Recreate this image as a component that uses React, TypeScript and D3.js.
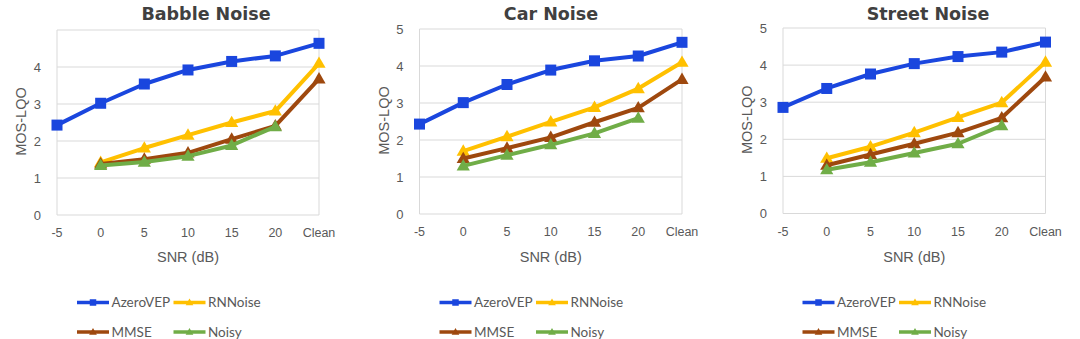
import React from "react";
import * as d3 from "d3";

const categories = ["-5", "0", "5", "10", "15", "20", "Clean"];
const yTicks = [0, 1, 2, 3, 4, 5];
const seriesNames = ["AzeroVEP", "RNNoise", "MMSE", "Noisy"];
const seriesColors = ["#1a46de", "#ffc000", "#9e480e", "#70ad47"];
const seriesMarkers = ["square", "triangle", "triangle", "triangle"];

type V = number | null;
const babbleAzero: V[] = [2.43, 3.02, 3.54, 3.92, 4.15, 4.3, 4.64];
const babbleRNN: V[] = [null, 1.42, 1.81, 2.16, 2.5, 2.81, 4.1];
const babbleMMSE: V[] = [null, 1.38, 1.51, 1.68, 2.05, 2.41, 3.68];
const babbleNoisy: V[] = [null, 1.34, 1.43, 1.59, 1.88, 2.39, null];

const carAzero: V[] = [2.43, 3.01, 3.5, 3.89, 4.14, 4.27, 4.64];
const carRNN: V[] = [null, 1.7, 2.09, 2.49, 2.88, 3.39, 4.1];
const carMMSE: V[] = [null, 1.5, 1.78, 2.07, 2.48, 2.87, 3.64];
const carNoisy: V[] = [null, 1.3, 1.59, 1.87, 2.18, 2.59, null];

const streetAzero: V[] = [2.86, 3.37, 3.76, 4.04, 4.23, 4.35, 4.62];
const streetRNN: V[] = [null, 1.49, 1.8, 2.18, 2.59, 2.99, 4.08];
const streetMMSE: V[] = [null, 1.3, 1.59, 1.88, 2.18, 2.58, 3.68];
const streetNoisy: V[] = [null, 1.18, 1.38, 1.63, 1.88, 2.37, null];

const panels = [
  { title: "Babble Noise", series: [babbleAzero, babbleRNN, babbleMMSE, babbleNoisy], left: 57, right: 319, top: 30, bottom: 215, titleX: 206, showTop: false, ylabX: 20.5, legendX: 77 },
  { title: "Car Noise", series: [carAzero, carRNN, carMMSE, carNoisy], left: 419.5, right: 682, top: 29, bottom: 214, titleX: 551, showTop: true, ylabX: 383.5, legendX: 439.5 },
  { title: "Street Noise", series: [streetAzero, streetRNN, streetMMSE, streetNoisy], left: 783, right: 1045.5, top: 28, bottom: 213.5, titleX: 928, showTop: true, ylabX: 746.5, legendX: 802.5 },
];

const axisFont = "'Liberation Sans', Arial, sans-serif";
const legendFont = "Lato, 'Liberation Sans', sans-serif";
const textColor = "#595959";
const gridColor = "#d9d9d9";

function Marker({ kind, x, y, color, size }: { kind: string; x: number; y: number; color: string; size: number }) {
  if (kind === "square") {
    return <rect x={x - size / 2} y={y - size / 2} width={size} height={size} fill={color} />;
  }
  const h = size * 0.95;
  const w = size * 1.1;
  const pts = `${x},${y - h * 0.6} ${x + w / 2},${y + h * 0.4} ${x - w / 2},${y + h * 0.4}`;
  return <polygon points={pts} fill={color} />;
}

function Panel({ p }: { p: (typeof panels)[number] }) {
  const x = d3.scalePoint<string>().domain(categories).range([p.left, p.right]).padding(0);
  const y = d3.scaleLinear().domain([0, 5]).range([p.bottom, p.top]);
  const line = d3
    .line<V>()
    .defined((d) => d !== null)
    .x((_, i) => x(categories[i]) as number)
    .y((d) => y(d as number));
  const midY = (p.top + p.bottom) / 2 - 1;
  const plotMid = (p.left + p.right) / 2;
  return (
    <g>
      <text x={p.titleX} y={20} textAnchor="middle" fontFamily="'DejaVu Sans', sans-serif" fontWeight="bold" fontSize={17.5} fill="#404040">
        {p.title}
      </text>
      {yTicks.map((t) => (
        <line key={"g" + t} x1={p.left} x2={p.right} y1={y(t)} y2={y(t)} stroke={gridColor} strokeWidth={1} />
      ))}
      <line x1={p.left} x2={p.left} y1={p.top} y2={p.bottom} stroke={gridColor} strokeWidth={1} />
      <line x1={p.right} x2={p.right} y1={p.top} y2={p.bottom} stroke={gridColor} strokeWidth={1} />
      {yTicks
        .filter((t) => p.showTop || t !== 5)
        .map((t) => (
          <text key={"yt" + t} x={p.left - 16} y={y(t)} dy="0.35em" textAnchor="end" fontFamily={axisFont} fontSize={13} fill={textColor}>
            {t}
          </text>
        ))}
      {categories.map((c) => (
        <text key={"xt" + c} x={x(c)} y={p.bottom + 22} textAnchor="middle" fontFamily={axisFont} fontSize={12.5} fill={textColor}>
          {c}
        </text>
      ))}
      <text x={plotMid} y={262} textAnchor="middle" fontFamily={axisFont} fontSize={14.5} fill={textColor}>
        SNR (dB)
      </text>
      <text transform={`translate(${p.ylabX},${midY}) rotate(-90)`} textAnchor="middle" dy="0.35em" fontFamily={axisFont} fontSize={14.5} fill={textColor}>
        MOS-LQO
      </text>
      {p.series.map((s, si) => (
        <g key={"s" + si}>
          <path d={line(s) || ""} fill="none" stroke={seriesColors[si]} strokeWidth={4} strokeLinejoin="round" />
          {s.map((v, i) =>
            v === null ? null : (
              <Marker key={i} kind={seriesMarkers[si]} x={x(categories[i]) as number} y={y(v)} color={seriesColors[si]} size={seriesMarkers[si] === "square" ? 11 : 12} />
            )
          )}
        </g>
      ))}
      {seriesNames.map((n, si) => {
        const col = si % 2;
        const row = Math.floor(si / 2);
        const lx = p.legendX + col * 96.5;
        const ly = 302.5 + row * 29.5;
        return (
          <g key={"l" + si}>
            <line x1={lx} x2={lx + 32} y1={ly} y2={ly} stroke={seriesColors[si]} strokeWidth={3.5} />
            <Marker kind={seriesMarkers[si]} x={lx + 16} y={ly} color={seriesColors[si]} size={seriesMarkers[si] === "square" ? 6.5 : 7} />
            <text x={lx + 34.5} y={ly} dy="0.35em" fontFamily={legendFont} fontSize={13.5} fill={textColor}>
              {n}
            </text>
          </g>
        );
      })}
    </g>
  );
}

export default function App() {
  return (
    <svg width={1080} height={339} style={{ position: "absolute", left: 0, top: 0, background: "#fff" }}>
      <rect x={0} y={0} width={1080} height={339} fill="#fff" />
      {panels.map((p) => (
        <Panel key={p.title} p={p} />
      ))}
    </svg>
  );
}
